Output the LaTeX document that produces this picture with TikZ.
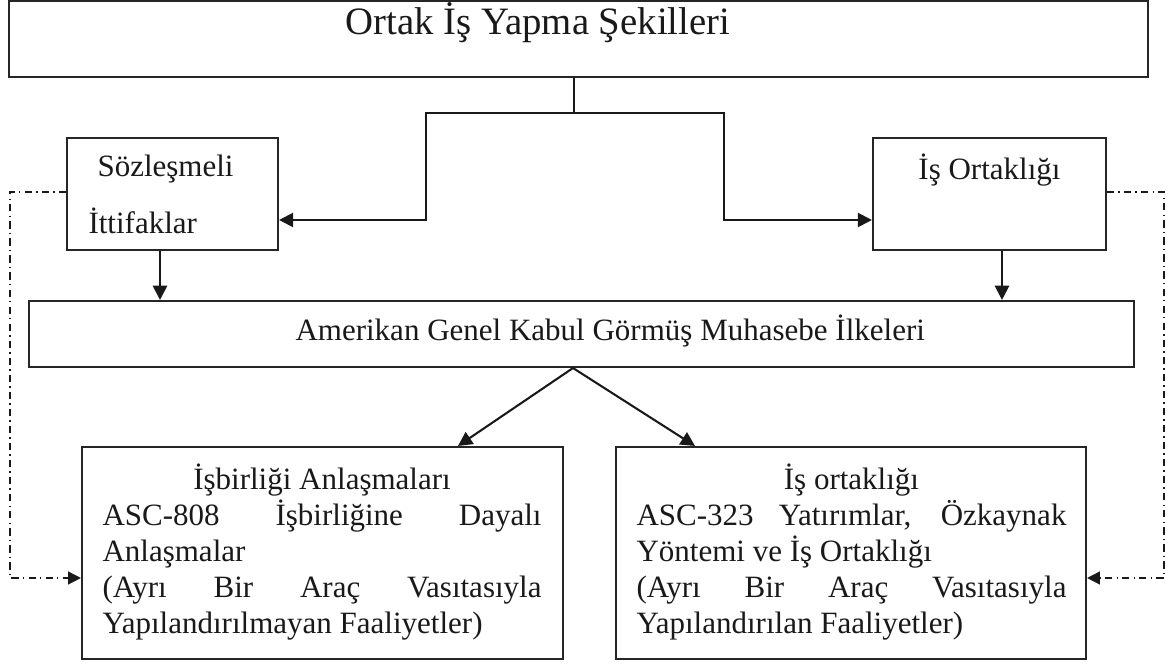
\documentclass[tikz,border=0pt]{standalone}
\usepackage{fontspec}
\setmainfont{Liberation Serif}
\usetikzlibrary{arrows.meta}

\begin{document}
\begin{tikzpicture}[x=0.387pt,y=-0.387pt,
  font=\fontsize{12}{13.84}\selectfont,
  box/.style={draw=black!85, line width=0.8pt, inner sep=0pt, fill=white},
  txt/.style={inner sep=0pt, text=black!90},
  link/.style={draw=black!90, line width=0.8pt},
  arr/.style={link, -{Triangle[length=5.5pt,width=5.5pt]}},
  dashlink/.style={draw=black!90, line width=0.55pt,
    dash pattern=on 2.8pt off 1.6pt on 0.6pt off 1.6pt,
    -{Triangle[length=5pt,width=5pt]}}]

\useasboundingbox (0,0) rectangle (1169,664);

% boxes
\node[box, minimum width=1139*0.387pt, minimum height=76*0.387pt] (top) at (578.5,39) {};
\node[box, minimum width=211*0.387pt, minimum height=112*0.387pt] (soz) at (172.5,194) {};
\node[box, minimum width=233*0.387pt, minimum height=112*0.387pt] (is) at (989.5,194) {};
\node[box, minimum width=1105*0.387pt, minimum height=66*0.387pt] (amer) at (581.5,334) {};
\node[box, minimum width=481*0.387pt, minimum height=212*0.387pt] (lb) at (322.5,553) {};
\node[box, minimum width=470*0.387pt, minimum height=212*0.387pt] (rb) at (851,553) {};

% labels
\node[txt, anchor=base, font=\fontsize{15}{17}\selectfont] (topT) at (538,35) {Ortak İş Yapma Şekilleri};
\node[txt, anchor=base west] (sozT1) at (97,177) {Sözleşmeli};
\node[txt, anchor=base west] (sozT2) at (88,234) {İttifaklar};
\node[txt, anchor=base] (isT) at (989.5,180) {İş Ortaklığı};
\node[txt, anchor=base west] (amerT) at (295,341) {Amerikan Genel Kabul Görmüş Muhasebe İlkeleri};

\node[txt, anchor=base west] (lbT) at (102,490) {\parbox[t]{169.9pt}{%
  \parindent=0pt\fontsize{12}{13.84}\selectfont
  \makebox[\linewidth][c]{İşbirliği Anlaşmaları}\\
  \makebox[\linewidth][s]{ASC-808 İşbirliğine Dayalı}\\
  \makebox[\linewidth][l]{Anlaşmalar}\\
  \makebox[\linewidth][s]{(Ayrı Bir Araç Vasıtasıyla}\\
  \makebox[\linewidth][l]{Yapılandırılmayan Faaliyetler)}}};

\node[txt, anchor=base west] (rbT) at (636,490) {\parbox[t]{166.4pt}{%
  \parindent=0pt\fontsize{12}{13.84}\selectfont
  \makebox[\linewidth][c]{İş ortaklığı}\\
  \makebox[\linewidth][s]{ASC-323 Yatırımlar, Özkaynak}\\
  \makebox[\linewidth][l]{Yöntemi ve İş Ortaklığı}\\
  \makebox[\linewidth][s]{(Ayrı Bir Araç Vasıtasıyla}\\
  \makebox[\linewidth][l]{Yapılandırılan Faaliyetler)}}};

% junction points of the branching connectors
\coordinate (j) at (574,113);
\coordinate (jl) at (426,220);
\coordinate (jr) at (724,220);
\coordinate (dl) at (160,0);
\coordinate (dr) at (1002,0);
\coordinate (apex) at (573,0);
\coordinate (tipl) at (458,0);
\coordinate (tipr) at (695,0);
\coordinate (lside) at (10,192);
\coordinate (rside) at (1164,192);
\coordinate (lend) at (10,578);
\coordinate (rend) at (1164,578);

\draw[link] (top.south -| j) -- (j);
\draw[arr] (j) -| (jl) -- (jl -| soz.east);
\draw[arr] (j) -| (jr) -- (jr -| is.west);

\draw[arr] (soz.south -| dl) -- (amer.north -| dl);
\draw[arr] (is.south -| dr) -- (amer.north -| dr);

\draw[arr] (amer.south -| apex) -- (lb.north -| tipl);
\draw[arr] (amer.south -| apex) -- (rb.north -| tipr);

\draw[dashlink] (lside -| soz.west) -- (lside) -- (lend) -- (lend -| lb.west);
\draw[dashlink] (rside -| is.east) -- (rside) -- (rend) -- (rend -| rb.east);

\end{tikzpicture}
\end{document}
